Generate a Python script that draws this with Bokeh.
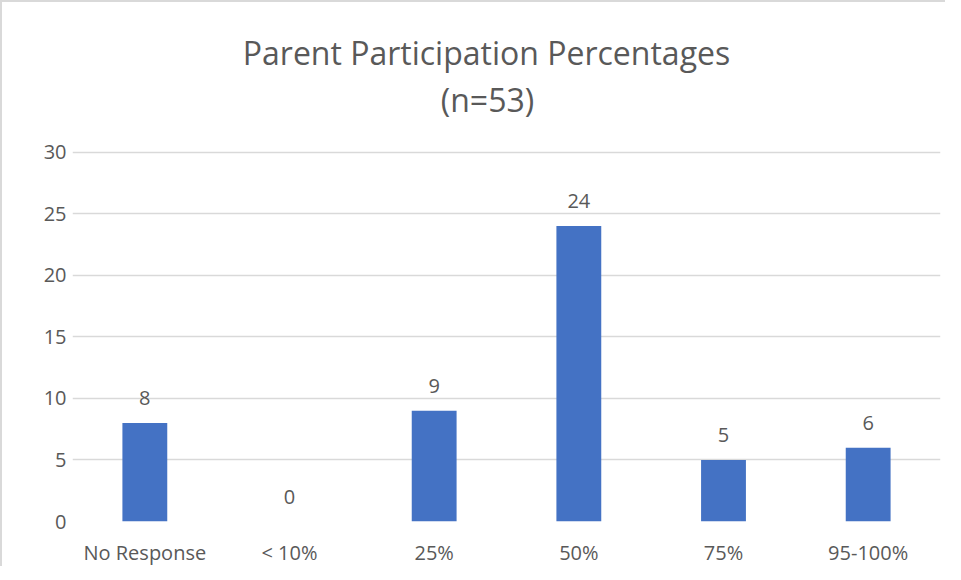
from bokeh.plotting import figure
from bokeh.models import ColumnDataSource, FactorRange, Range1d, FixedTicker, Label
from bokeh.core.properties import value
from bokeh.embed import file_html
from bokeh.resources import INLINE

categories = ["No Response", "< 10%", "25%", "50%", "75%", "95-100%"]
counts = [8, 0, 9, 24, 5, 6]
y_ticks = [0, 5, 10, 15, 20, 25, 30]
title_line1 = "Parent Participation Percentages"
title_line2 = "(n=53)"

TEXT = "#595959"
FONT = "Open Sans"

# frame spans the whole height (title lives inside the frame area);
# value axis top (30) sits 370px above the baseline of a 520px-tall frame
FRAME_H = 520
AXIS_H = 370
y_top = y_ticks[-1] * FRAME_H / AXIS_H

src = ColumnDataSource(dict(cat=categories, val=counts, lbl=[str(v) for v in counts]))

ticker = FixedTicker(ticks=y_ticks)

p = figure(width=945, height=566,
           x_range=FactorRange(*categories, range_padding=0),
           y_range=Range1d(0, y_top),
           output_backend="svg", toolbar_location=None,
           min_border_left=70, min_border_right=7,
           min_border_top=0, min_border_bottom=46)
p.title.visible = False
p.outline_line_color = None
p.background_fill_color = "white"
p.border_fill_color = "white"
p.styles = {"border-left": "2px solid #d9d9d9", "border-top": "2px solid #d9d9d9"}

p.vbar(x="cat", top="val", width=0.31, source=src,
       fill_color="#4472C4", line_color=None)

p.text(x="cat", y="val", text="lbl", source=src, text_align="center",
       text_baseline="alphabetic", y_offset=-25,
       text_font=value(FONT), text_font_size="20px", text_color=TEXT)

p.xgrid.grid_line_color = None
p.yaxis.ticker = ticker
p.ygrid.ticker = ticker
p.ygrid.grid_line_color = "#d9d9d9"
p.ygrid.grid_line_width = 1.5

for ax in (p.xaxis[0], p.yaxis[0]):
    ax.axis_line_color = None
    ax.major_tick_line_color = None
    ax.minor_tick_line_color = None
    ax.major_tick_out = 0
    ax.major_tick_in = 0
    ax.minor_tick_out = 0
    ax.minor_tick_in = 0
    ax.major_label_text_font = FONT
    ax.major_label_text_font_size = "20px"
    ax.major_label_text_color = TEXT
p.yaxis.major_label_standoff = 6
p.xaxis.major_label_standoff = 17

p.add_layout(Label(x=414, y=469, x_units="screen", y_units="screen", text=title_line1,
                   text_align="center", text_baseline="alphabetic",
                   text_font=FONT, text_font_size="32px", text_color=TEXT))
p.add_layout(Label(x=415, y=422, x_units="screen", y_units="screen", text=title_line2,
                   text_align="center", text_baseline="alphabetic",
                   text_font=FONT, text_font_size="32px", text_color=TEXT))

open("out.html", "w").write(file_html(p, INLINE))
